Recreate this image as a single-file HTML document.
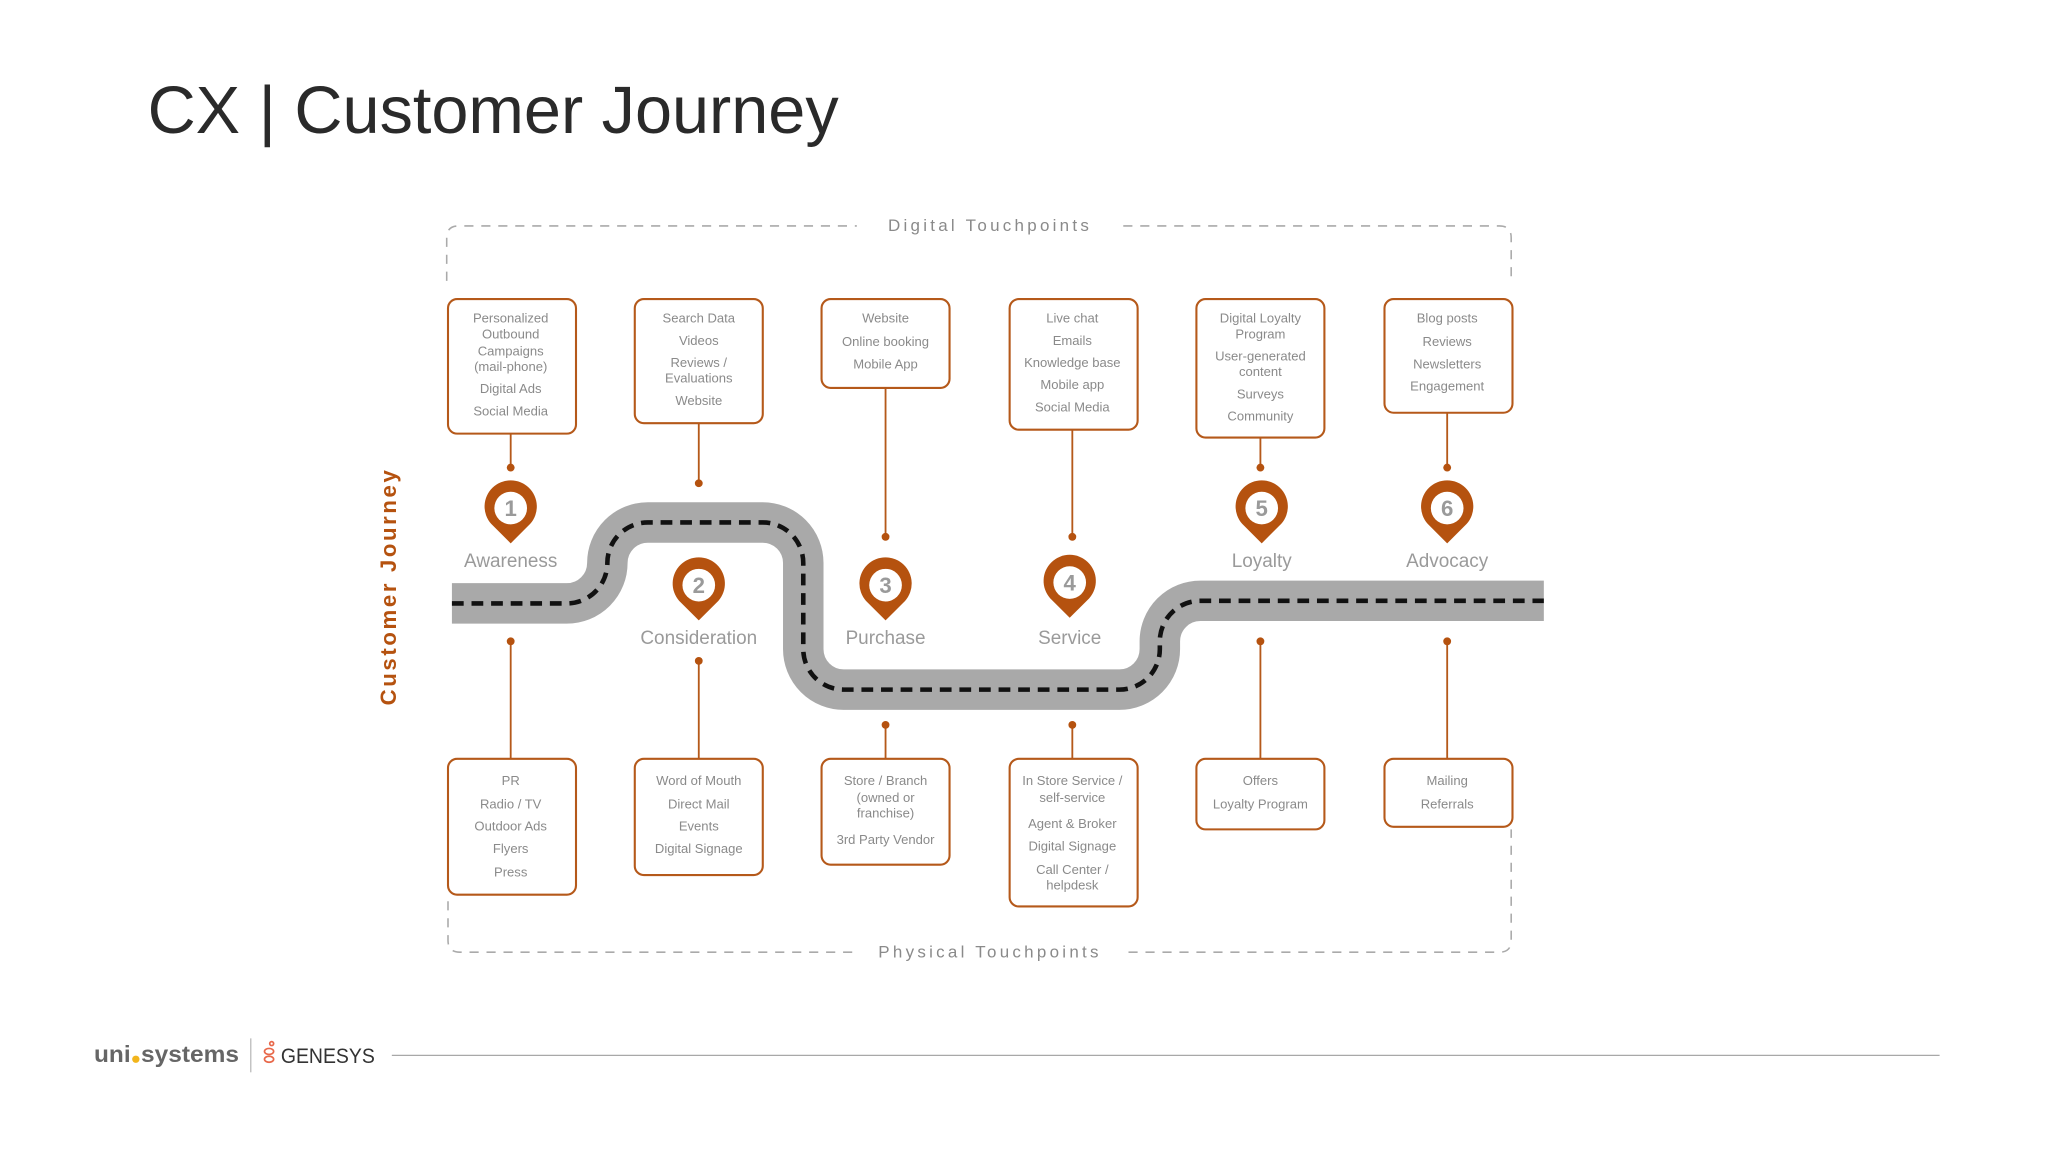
<!DOCTYPE html>
<html><head><meta charset="utf-8"><style>
html,body{margin:0;padding:0;background:#fff;}
svg{display:block;}
text{font-family:"Liberation Sans",sans-serif;}
.bt{font-size:10px;fill:#8a8a8a;text-anchor:middle;}
.lb{font-size:14.5px;fill:#9a9a9a;text-anchor:middle;}
.num{font-size:17px;fill:#9a9a9a;text-anchor:middle;font-weight:bold;}
.box{fill:#fff;stroke:#b5591a;stroke-width:1.6;}
.cn{stroke:#b5591a;stroke-width:1.4;fill:none;}
.dot{fill:#b5520f;}
.fr{stroke:#aaa;stroke-width:1.2;fill:none;stroke-dasharray:7 6;}
</style></head><body>
<svg width="2048" height="1152" viewBox="0 0 1568 882" xmlns="http://www.w3.org/2000/svg">
<rect width="1568" height="882" fill="#fff"/>
<text x="113" y="102" style="font-size:51px;fill:#2a2a2a;">CX | Customer Journey</text>

<path class="fr" d="M342,215 V182 Q342,173 351,173 H656"/>
<path class="fr" d="M860,173 H1148 Q1157,173 1157,182 V215"/>
<text x="758" y="177" style="font-size:13px;fill:#8a8a8a;text-anchor:middle;letter-spacing:2.5px;">Digital Touchpoints</text>
<path class="fr" d="M343,690 V720 Q343,729 352,729 H654"/>
<path class="fr" d="M864,729 H1148 Q1157,729 1157,720 V635"/>
<text x="758" y="733" style="font-size:13px;fill:#8a8a8a;text-anchor:middle;letter-spacing:2.5px;">Physical Touchpoints</text>

<text transform="translate(303,449) rotate(-90)" style="font-size:17px;fill:#b5520f;text-anchor:middle;font-weight:bold;letter-spacing:2px;">Customer Journey</text>

<path d="M346,462 H434 A31,31 0 0 0 465,431 A31,31 0 0 1 496,400 H584 A31,31 0 0 1 615,431 V497 A31,31 0 0 0 646,528 H857 A31,31 0 0 0 888,497 V491 A31,31 0 0 1 919,460 H1182" fill="none" stroke="#a9a9a9" stroke-width="31"/>
<path d="M346,462 H434 A31,31 0 0 0 465,431 A31,31 0 0 1 496,400 H584 A31,31 0 0 1 615,431 V497 A31,31 0 0 0 646,528 H857 A31,31 0 0 0 888,497 V491 A31,31 0 0 1 919,460 H1182" fill="none" stroke="#111" stroke-width="3.5" stroke-dasharray="9 6"/>

<rect class="box" x="343" y="229" width="98" height="103" rx="7"/>
<rect class="box" x="486" y="229" width="98" height="95" rx="7"/>
<rect class="box" x="629" y="229" width="98" height="68" rx="7"/>
<rect class="box" x="773" y="229" width="98" height="100" rx="7"/>
<rect class="box" x="916" y="229" width="98" height="106" rx="7"/>
<rect class="box" x="1060" y="229" width="98" height="87" rx="7"/>

<g class="bt">
<text x="391" y="247">Personalized</text><text x="391" y="259">Outbound</text><text x="391" y="272">Campaigns</text><text x="391" y="284">(mail-phone)</text><text x="391" y="301">Digital Ads</text><text x="391" y="318">Social Media</text>
<text x="535" y="247">Search Data</text><text x="535" y="264">Videos</text><text x="535" y="281">Reviews /</text><text x="535" y="293">Evaluations</text><text x="535" y="310">Website</text>
<text x="678" y="247">Website</text><text x="678" y="265">Online booking</text><text x="678" y="282">Mobile App</text>
<text x="821" y="247">Live chat</text><text x="821" y="264">Emails</text><text x="821" y="281">Knowledge base</text><text x="821" y="298">Mobile app</text><text x="821" y="315">Social Media</text>
<text x="965" y="247">Digital Loyalty</text><text x="965" y="259">Program</text><text x="965" y="276">User-generated</text><text x="965" y="288">content</text><text x="965" y="305">Surveys</text><text x="965" y="322">Community</text>
<text x="1108" y="247">Blog posts</text><text x="1108" y="265">Reviews</text><text x="1108" y="282">Newsletters</text><text x="1108" y="299">Engagement</text>
</g>

<path class="cn" d="M391,332 V358 M535,324 V370 M678,297 V411 M821,329 V411 M965,335 V358 M1108,316 V358"/>
<g class="dot">
<circle cx="391" cy="358" r="3"/><circle cx="535" cy="370" r="3"/><circle cx="678" cy="411" r="3"/><circle cx="821" cy="411" r="3"/><circle cx="965" cy="358" r="3"/><circle cx="1108" cy="358" r="3"/>
</g>

<defs>
<g id="pin"><path d="M0,27 L-15,12 A20,20 0 1 1 15,12 Z" fill="#b5520f"/><circle r="12.5" fill="#fff"/></g>
</defs>
<use href="#pin" x="391" y="389"/><text class="num" x="391" y="395">1</text>
<use href="#pin" x="535" y="448"/><text class="num" x="535" y="454">2</text>
<use href="#pin" x="678" y="448"/><text class="num" x="678" y="454">3</text>
<use href="#pin" x="819" y="446"/><text class="num" x="819" y="452">4</text>
<use href="#pin" x="966" y="389"/><text class="num" x="966" y="395">5</text>
<use href="#pin" x="1108" y="389"/><text class="num" x="1108" y="395">6</text>

<text class="lb" x="391" y="434">Awareness</text>
<text class="lb" x="535" y="493">Consideration</text>
<text class="lb" x="678" y="493">Purchase</text>
<text class="lb" x="819" y="493">Service</text>
<text class="lb" x="966" y="434">Loyalty</text>
<text class="lb" x="1108" y="434">Advocacy</text>

<path class="cn" d="M391,491 V581 M535,506 V581 M678,555 V581 M821,555 V581 M965,491 V581 M1108,491 V581"/>
<g class="dot">
<circle cx="391" cy="491" r="3"/><circle cx="535" cy="506" r="3"/><circle cx="678" cy="555" r="3"/><circle cx="821" cy="555" r="3"/><circle cx="965" cy="491" r="3"/><circle cx="1108" cy="491" r="3"/>
</g>

<rect class="box" x="343" y="581" width="98" height="104" rx="7"/>
<rect class="box" x="486" y="581" width="98" height="89" rx="7"/>
<rect class="box" x="629" y="581" width="98" height="81" rx="7"/>
<rect class="box" x="773" y="581" width="98" height="113" rx="7"/>
<rect class="box" x="916" y="581" width="98" height="54" rx="7"/>
<rect class="box" x="1060" y="581" width="98" height="52" rx="7"/>

<g class="bt">
<text x="391" y="601">PR</text><text x="391" y="619">Radio / TV</text><text x="391" y="636">Outdoor Ads</text><text x="391" y="653">Flyers</text><text x="391" y="671">Press</text>
<text x="535" y="601">Word of Mouth</text><text x="535" y="619">Direct Mail</text><text x="535" y="636">Events</text><text x="535" y="653">Digital Signage</text>
<text x="678" y="601">Store / Branch</text><text x="678" y="614">(owned or</text><text x="678" y="626">franchise)</text><text x="678" y="646">3rd Party Vendor</text>
<text x="821" y="601">In Store Service /</text><text x="821" y="614">self-service</text><text x="821" y="634">Agent &amp; Broker</text><text x="821" y="651">Digital Signage</text><text x="821" y="669">Call Center /</text><text x="821" y="681">helpdesk</text>
<text x="965" y="601">Offers</text><text x="965" y="619">Loyalty Program</text>
<text x="1108" y="601">Mailing</text><text x="1108" y="619">Referrals</text>
</g>

<text x="72" y="813" style="font-size:18px;font-weight:bold;fill:#666;" textLength="28" lengthAdjust="spacingAndGlyphs">uni</text>
<circle cx="104" cy="811" r="2.8" fill="#f2b51c"/>
<text x="108" y="813" style="font-size:18px;font-weight:bold;fill:#666;" textLength="75" lengthAdjust="spacingAndGlyphs">systems</text>
<line x1="192" y1="795" x2="192" y2="821" stroke="#bbb" stroke-width="1"/>
<g fill="none" stroke="#e8684a" stroke-width="1.3">
<circle cx="208" cy="799" r="1.5"/><ellipse cx="206" cy="805" rx="3.5" ry="2.3"/><ellipse cx="206" cy="811" rx="3.5" ry="2.3"/>
</g>
<text x="215" y="814" style="font-size:16px;fill:#333;" textLength="72" lengthAdjust="spacingAndGlyphs">GENESYS</text>
<line x1="300" y1="808" x2="1485" y2="808" stroke="#a8a8a8" stroke-width="1"/>
</svg>
</body></html>
